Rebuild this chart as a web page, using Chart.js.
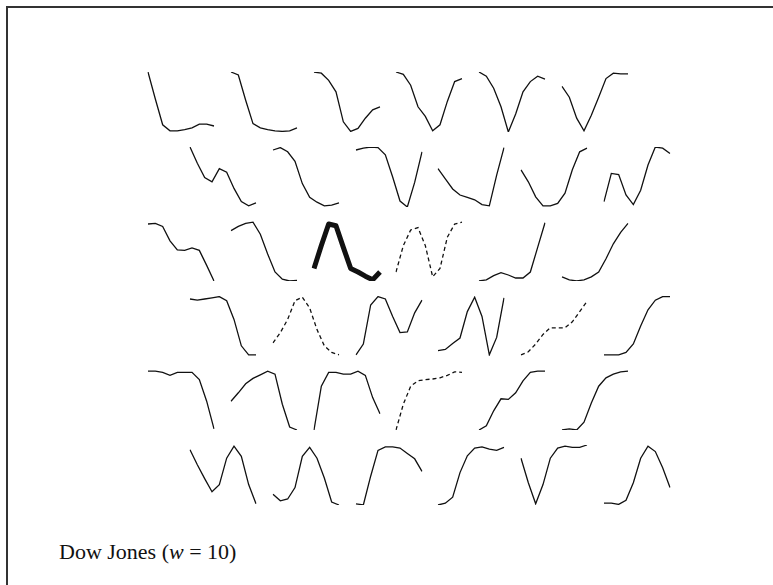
<!DOCTYPE html>
<html>
<head>
<meta charset="utf-8">
<script src="https://cdn.jsdelivr.net/npm/chart.js@4.4.1/dist/chart.umd.min.js"></script>
<style>
  html, body { margin: 0; padding: 0; background: #fff; }
  body { width: 773px; height: 585px; position: relative; overflow: hidden; }
  #frame {
    position: absolute; left: 6px; top: 6px; width: 800px; height: 620px;
    border-top: 2px solid #333; border-left: 2px solid #333;
  }
  canvas.cell { position: absolute; }
  #caption {
    position: absolute; left: 59px; top: 541px;
    font-family: "Liberation Serif", "Times New Roman", serif;
    font-size: 22px; line-height: 22px; color: #111; white-space: nowrap;
  }
</style>
</head>
<body>
<div id="frame"></div>
<div id="caption">Dow Jones (<i>w</i> = 10)</div>
<script>
// window positions 1..w
const steps = ["1", "2", "3", "4", "5", "6", "7", "8", "9", "10"];

// normalised window shapes, one list per map row (0 = low, 1 = high)
const rowA = [
  [1.0, 0.55, 0.12, 0.02, 0.02, 0.04, 0.07, 0.13, 0.13, 0.10],
  [1.0, 0.95, 0.53, 0.14, 0.07, 0.04, 0.02, 0.01, 0.02, 0.07],
  [1.0, 0.98, 0.86, 0.67, 0.17, 0.01, 0.06, 0.23, 0.37, 0.42],
  [1.0, 0.96, 0.78, 0.42, 0.26, 0.02, 0.12, 0.51, 0.84, 0.89],
  [1.0, 0.93, 0.73, 0.42, 0.0, 0.30, 0.67, 0.84, 0.93, 0.88],
  [0.76, 0.58, 0.23, 0.02, 0.28, 0.58, 0.89, 0.98, 0.97, 0.97],
];
const rowB = [
  [1.0, 0.73, 0.49, 0.42, 0.64, 0.58, 0.31, 0.09, 0.02, 0.07],
  [0.95, 0.99, 0.92, 0.76, 0.39, 0.16, 0.08, 0.02, 0.03, 0.07],
  [0.95, 0.98, 1.0, 0.99, 0.87, 0.50, 0.10, 0.0, 0.41, 0.92],
  [0.64, 0.47, 0.30, 0.20, 0.16, 0.12, 0.04, 0.02, 0.53, 0.99],
  [0.62, 0.42, 0.17, 0.02, 0.02, 0.06, 0.23, 0.62, 0.92, 0.98],
  [0.09, 0.56, 0.54, 0.20, 0.04, 0.28, 0.70, 1.0, 0.98, 0.89],
];
const rowC = [
  [0.95, 0.96, 0.91, 0.67, 0.52, 0.51, 0.55, 0.51, 0.26, 0.0],
  [0.84, 0.91, 0.96, 0.98, 0.78, 0.45, 0.15, 0.03, 0.0, 0.01],
  [0.21, 0.59, 0.95, 0.92, 0.56, 0.21, 0.15, 0.08, 0.02, 0.15],
  [0.15, 0.59, 0.85, 0.89, 0.59, 0.07, 0.21, 0.73, 0.95, 0.98],
  [0.0, 0.02, 0.09, 0.14, 0.10, 0.05, 0.05, 0.15, 0.56, 0.97],
  [0.07, 0.02, 0.0, 0.02, 0.07, 0.15, 0.37, 0.62, 0.81, 0.96],
];
const rowD = [
  [0.95, 0.93, 0.95, 0.97, 0.99, 0.92, 0.61, 0.17, 0.02, 0.02],
  [0.22, 0.39, 0.61, 0.92, 0.98, 0.80, 0.44, 0.17, 0.06, 0.02],
  [0.02, 0.20, 0.85, 0.99, 0.95, 0.66, 0.39, 0.40, 0.72, 0.93],
  [0.09, 0.11, 0.21, 0.30, 0.74, 0.98, 0.66, 0.02, 0.31, 0.97],
  [0.02, 0.07, 0.20, 0.36, 0.47, 0.47, 0.47, 0.57, 0.74, 0.91],
  [0.02, 0.02, 0.02, 0.06, 0.20, 0.50, 0.77, 0.93, 0.99, 0.99],
];
const rowE = [
  [0.98, 0.98, 0.96, 0.91, 0.96, 0.96, 0.96, 0.84, 0.48, 0.02],
  [0.48, 0.62, 0.77, 0.86, 0.92, 0.98, 0.93, 0.43, 0.05, 0.0],
  [0.0, 0.73, 0.96, 0.96, 0.93, 0.93, 0.98, 0.91, 0.54, 0.27],
  [0.0, 0.43, 0.73, 0.82, 0.84, 0.85, 0.87, 0.91, 0.97, 0.96],
  [0.0, 0.07, 0.32, 0.52, 0.51, 0.62, 0.82, 0.96, 0.98, 0.98],
  [0.0, 0.02, 0.0, 0.13, 0.45, 0.73, 0.87, 0.93, 0.97, 0.98],
];
const rowF = [
  [0.92, 0.67, 0.44, 0.22, 0.34, 0.78, 0.98, 0.81, 0.34, 0.02],
  [0.18, 0.07, 0.10, 0.29, 0.81, 0.96, 0.78, 0.45, 0.05, 0.0],
  [0.02, 0.0, 0.48, 0.91, 0.97, 0.97, 0.95, 0.86, 0.77, 0.56],
  [0.0, 0.03, 0.13, 0.54, 0.82, 0.95, 0.97, 0.93, 0.91, 0.96],
  [0.78, 0.37, 0.02, 0.34, 0.78, 0.95, 0.98, 0.96, 0.96, 1.0],
  [0.03, 0.03, 0.01, 0.08, 0.37, 0.78, 0.98, 0.89, 0.62, 0.29],
];
const rows = [rowA, rowB, rowC, rowD, rowE, rowF];

// [row, col] of highlighted units
const dashedUnits = [[2, 3], [3, 1], [3, 4], [4, 3]];
const winnerUnit = [2, 2];

// hex layout of the map
const cellW = 66, cellH = 60, pad = 4;
const colStep = 82.8, rowStep = 74.6;
const firstLeft = 148, shiftLeft = 42, firstTop = 72;

function isDashed(r, c) {
  return dashedUnits.some(u => u[0] === r && u[1] === c);
}

rows.forEach((row, r) => {
  row.forEach((values, c) => {
    const canvas = document.createElement("canvas");
    canvas.className = "cell";
    canvas.width = cellW + pad * 2;
    canvas.height = cellH + pad * 2;
    canvas.style.left = (firstLeft + (r % 2) * shiftLeft + c * colStep - pad) + "px";
    canvas.style.top = (firstTop + r * rowStep - pad) + "px";
    document.body.appendChild(canvas);

    const winner = r === winnerUnit[0] && c === winnerUnit[1];
    new Chart(canvas.getContext("2d"), {
      type: "line",
      data: {
        labels: steps,
        datasets: [{
          data: values,
          borderColor: "#111",
          borderWidth: winner ? 5 : 1.3,
          borderDash: isDashed(r, c) ? [4, 3] : [],
          borderJoinStyle: winner ? "round" : "miter",
          pointRadius: 0,
          tension: 0,
          fill: false,
        }],
      },
      options: {
        responsive: false,
        animation: false,
        events: [],
        layout: { padding: pad },
        plugins: { legend: { display: false }, tooltip: { enabled: false } },
        scales: {
          x: { display: false, offset: false },
          y: { display: false, min: 0, max: 1 },
        },
      },
    });
  });
});
</script>
</body>
</html>
